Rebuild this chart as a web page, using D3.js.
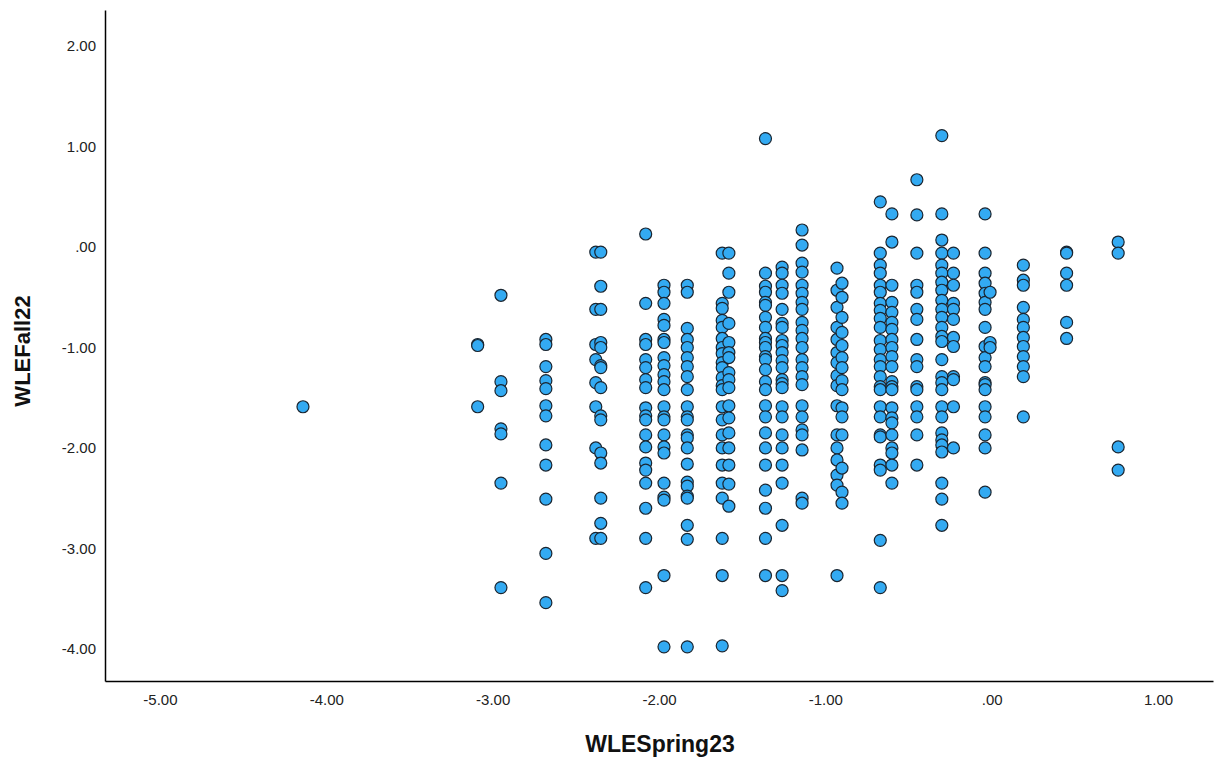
<!DOCTYPE html>
<html>
<head>
<meta charset="utf-8">
<script src="https://cdn.jsdelivr.net/npm/d3@7"></script>
<style>
  body { margin: 0; background: #fff; }
  svg { display: block; font-family: "Liberation Sans", Arial, sans-serif; }
</style>
</head>
<body>
<div id="chart"></div>
<script>
// WLESpring23 score levels (x) - each has a column of WLEFall22 scores (y)
const springLevels = [
  -4.14, -3.09, -2.95, -2.68, -2.38, -2.35, -2.08, -1.97, -1.83, -1.62,
  -1.58, -1.36, -1.26, -1.14, -0.93, -0.90, -0.67, -0.60, -0.45, -0.30,
  -0.23, -0.04, -0.01, 0.19, 0.45, 0.76
];

const fallValues = [
  [-1.59],
  [-0.97, -0.98, -1.59],
  [-0.48, -1.34, -1.43, -1.81, -1.86, -2.35, -3.39],
  [-0.92, -0.97, -1.19, -1.33, -1.41, -1.58, -1.68, -1.97, -2.17, -2.51, -3.05, -3.54],
  [-0.05, -0.62, -0.97, -1.12, -1.35, -1.59, -2.0, -2.9],
  [-0.05, -0.39, -0.62, -0.95, -1.0, -1.18, -1.2, -1.4, -1.68, -1.72, -2.05, -2.15, -2.5, -2.75, -2.9],
  [0.13, -0.56, -0.92, -0.97, -1.12, -1.2, -1.32, -1.4, -1.6, -1.68, -1.72, -1.87, -1.99, -2.15, -2.22, -2.35, -2.6, -2.9, -3.39],
  [-0.38, -0.45, -0.56, -0.72, -0.78, -0.92, -0.95, -1.1, -1.18, -1.27, -1.34, -1.42, -1.59, -1.69, -1.72, -1.87, -1.99, -2.05, -2.35, -2.49, -2.52, -3.27, -3.98],
  [-0.38, -0.45, -0.81, -0.92, -1.0, -1.1, -1.19, -1.29, -1.42, -1.59, -1.69, -1.72, -1.87, -1.9, -2.0, -2.16, -2.34, -2.38, -2.48, -2.5, -2.77, -2.91, -3.98],
  [-0.06, -0.56, -0.61, -0.73, -0.8, -0.91, -1.0, -1.06, -1.15, -1.2, -1.3, -1.38, -1.42, -1.59, -1.72, -1.87, -2.0, -2.17, -2.35, -2.5, -2.9, -3.27, -3.97],
  [-0.06, -0.26, -0.45, -0.76, -0.95, -1.05, -1.1, -1.25, -1.32, -1.4, -1.58, -1.7, -1.85, -2.0, -2.17, -2.36, -2.58],
  [1.08, -0.26, -0.39, -0.45, -0.55, -0.58, -0.7, -0.8, -0.91, -0.95, -1.0, -1.09, -1.12, -1.22, -1.34, -1.42, -1.58, -1.69, -1.85, -2.0, -2.17, -2.42, -2.6, -2.9, -3.27],
  [-0.2, -0.26, -0.38, -0.46, -0.62, -0.76, -0.8, -0.93, -0.98, -1.05, -1.13, -1.2, -1.32, -1.36, -1.4, -1.59, -1.69, -1.87, -2.0, -2.17, -2.35, -2.77, -3.27, -3.42],
  [0.17, 0.02, -0.16, -0.25, -0.38, -0.46, -0.55, -0.62, -0.75, -0.83, -0.91, -1.0, -1.12, -1.2, -1.29, -1.37, -1.58, -1.69, -1.82, -1.87, -2.02, -2.5, -2.55],
  [-0.21, -0.43, -0.6, -0.8, -0.92, -1.05, -1.15, -1.28, -1.38, -1.58, -1.87, -2.0, -2.12, -2.27, -2.37, -3.27],
  [-0.36, -0.5, -0.7, -0.85, -0.98, -1.1, -1.2, -1.33, -1.42, -1.6, -1.69, -1.87, -2.2, -2.44, -2.55],
  [0.45, -0.06, -0.18, -0.26, -0.38, -0.45, -0.56, -0.63, -0.71, -0.8, -0.93, -1.02, -1.12, -1.19, -1.29, -1.39, -1.42, -1.59, -1.69, -1.87, -1.89, -2.17, -2.22, -2.92, -3.39],
  [0.33, 0.05, -0.38, -0.55, -0.65, -0.75, -0.82, -0.92, -1.0, -1.09, -1.19, -1.34, -1.39, -1.42, -1.6, -1.7, -1.75, -1.87, -2.0, -2.05, -2.17, -2.35],
  [0.67, 0.32, -0.06, -0.38, -0.45, -0.62, -0.72, -0.92, -1.12, -1.19, -1.39, -1.42, -1.59, -1.69, -1.87, -2.17],
  [1.11, 0.33, 0.07, -0.06, -0.18, -0.26, -0.35, -0.43, -0.53, -0.62, -0.7, -0.8, -0.89, -0.94, -1.12, -1.29, -1.35, -1.42, -1.59, -1.69, -1.85, -1.92, -1.97, -2.04, -2.35, -2.51, -2.77],
  [-0.06, -0.26, -0.38, -0.56, -0.62, -0.72, -0.9, -0.99, -1.29, -1.32, -1.59, -2.0],
  [0.33, -0.06, -0.26, -0.36, -0.46, -0.55, -0.62, -0.8, -0.99, -1.1, -1.19, -1.35, -1.37, -1.42, -1.59, -1.69, -1.87, -2.0, -2.44],
  [-0.45, -0.95, -1.0],
  [-0.18, -0.33, -0.38, -0.6, -0.72, -0.8, -0.9, -0.99, -1.09, -1.19, -1.29, -1.69],
  [-0.05, -0.06, -0.26, -0.38, -0.75, -0.91],
  [0.05, -0.06, -1.99, -2.22]
];

const xTicks = [-5, -4, -3, -2, -1, 0, 1];
const yTicks = [2, 1, 0, -1, -2, -3, -4];

const points = [];
springLevels.forEach((x, i) => {
  fallValues[i].forEach(y => points.push({ x, y }));
});

const W = 1219, H = 764;
const svg = d3.select("#chart").append("svg")
  .attr("width", W).attr("height", H);

const x = d3.scaleLinear().domain([-5.33, 1.33]).range([105, 1213]);
const y = d3.scaleLinear().domain([-4.32, 2.36]).range([681, 10]);

// SPSS style numbers: ".00" instead of "0.00", plain hyphen for minus
const fmt = v => {
  const s = v.toFixed(2);
  return s.replace(/^0\./, ".").replace(/^-0\./, "-.");
};

const xAxis = svg.append("g")
  .attr("transform", "translate(0,681)")
  .call(d3.axisBottom(x).tickValues(xTicks).tickFormat(fmt).tickSize(0).tickPadding(13));
const yAxis = svg.append("g")
  .attr("transform", "translate(105,0)")
  .call(d3.axisLeft(y).tickValues(yTicks).tickFormat(fmt).tickSize(0).tickPadding(9));

[xAxis, yAxis].forEach(g => {
  g.select(".domain").attr("stroke", "#000").attr("stroke-width", 1.5);
  g.selectAll("text").attr("font-size", 15).attr("fill", "#222")
    .attr("font-family", "'Liberation Sans', Arial, sans-serif");
});

// points
svg.append("g")
  .selectAll("circle")
  .data(points)
  .enter().append("circle")
  .attr("cx", d => x(d.x))
  .attr("cy", d => y(d.y))
  .attr("r", 6)
  .attr("fill", "#33aaf2")
  .attr("stroke", "#1a2530")
  .attr("stroke-width", 1.2);

// axis titles
svg.append("text")
  .attr("x", 660).attr("y", 752)
  .attr("text-anchor", "middle")
  .attr("font-size", 23).attr("font-weight", "bold").attr("fill", "#111")
  .text("WLESpring23");

svg.append("text")
  .attr("transform", "translate(30,351) rotate(-90)")
  .attr("text-anchor", "middle")
  .attr("font-size", 22).attr("font-weight", "bold").attr("fill", "#111")
  .text("WLEFall22");
</script>
</body>
</html>
